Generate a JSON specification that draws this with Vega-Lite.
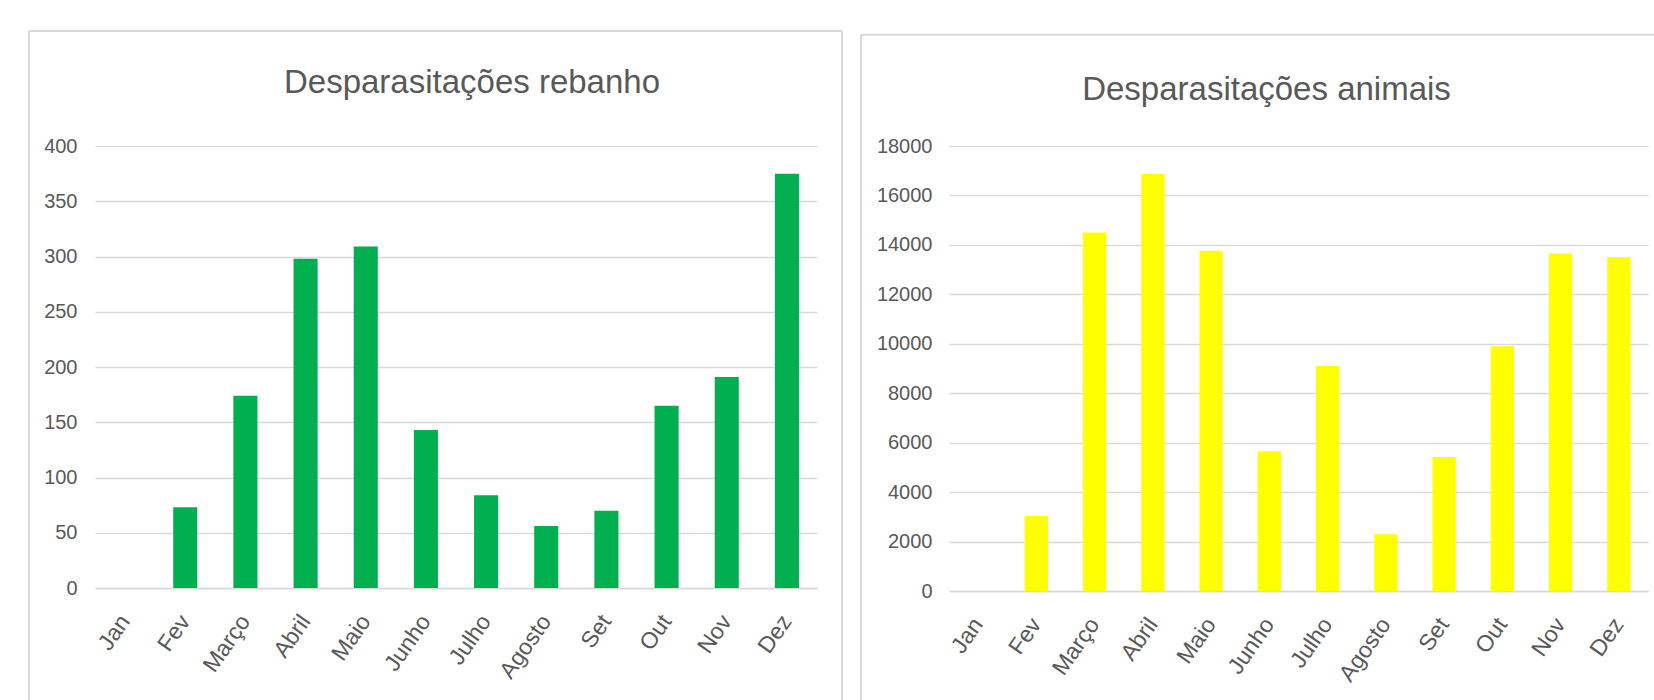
{
  "$schema": "https://vega.github.io/schema/vega-lite/v6.json",
  "background": "white",
  "padding": {"left": 28, "top": 30, "right": 0, "bottom": 0},
  "autosize": {"type": "pad"},
  "datasets": {
    "rebanho": [
      {"mes": "Jan", "valor": 0},
      {"mes": "Fev", "valor": 73},
      {"mes": "Março", "valor": 174},
      {"mes": "Abril", "valor": 298},
      {"mes": "Maio", "valor": 309},
      {"mes": "Junho", "valor": 143},
      {"mes": "Julho", "valor": 84},
      {"mes": "Agosto", "valor": 56},
      {"mes": "Set", "valor": 70},
      {"mes": "Out", "valor": 165},
      {"mes": "Nov", "valor": 191},
      {"mes": "Dez", "valor": 375}
    ],
    "animais": [
      {"mes": "Jan", "valor": 0},
      {"mes": "Fev", "valor": 3030},
      {"mes": "Março", "valor": 14500},
      {"mes": "Abril", "valor": 16880},
      {"mes": "Maio", "valor": 13760},
      {"mes": "Junho", "valor": 5650},
      {"mes": "Julho", "valor": 9100},
      {"mes": "Agosto", "valor": 2300},
      {"mes": "Set", "valor": 5420},
      {"mes": "Out", "valor": 9900},
      {"mes": "Nov", "valor": 13650},
      {"mes": "Dez", "valor": 13500}
    ]
  },
  "config": {
    "font": "Liberation Sans",
    "view": {"stroke": null},
    "axis": {
      "labelColor": "#595959",
      "labelFont": "Liberation Sans",
      "labelFontSize": 20,
      "ticks": false,
      "domain": false,
      "gridColor": "#d9d9d9",
      "gridWidth": 1.5,
      "title": null
    },
    "axisX": {"labelFontSize": 23},
    "title": {
      "color": "#595959",
      "font": "Liberation Sans",
      "fontSize": 33,
      "fontWeight": "normal",
      "frame": "group",
      "baseline": "alphabetic"
    },
    "rule": {"color": "#d9d9d9", "strokeWidth": 2},
    "concat": {"spacing": 16}
  },
  "hconcat": [
    {
      "width": 722,
      "height": 442,
      "title": {"text": "Desparasitações rebanho", "dx": 16, "offset": -70},
      "layer": [
        {
          "data": {"name": "rebanho"},
          "mark": {"type": "bar", "color": "#00b050"},
          "encoding": {
            "x": {
              "field": "mes",
              "type": "nominal",
              "sort": null,
              "scale": {"paddingInner": 0.6, "paddingOuter": 0.3},
              "axis": {
                "labelAngle": -55,
                "labelAlign": "right",
                "labelBaseline": "middle",
                "labelPadding": 29,
                "domain": true,
                "domainColor": "#d9d9d9",
                "domainWidth": 1.5,
                "grid": false
              }
            },
            "y": {
              "field": "valor",
              "type": "quantitative",
              "scale": {"domain": [0, 400]},
              "axis": {"values": [0, 50, 100, 150, 200, 250, 300, 350, 400], "labelPadding": 18}
            }
          }
        },
        {
          "data": {"values": [{}]},
          "mark": {"type": "rule"},
          "encoding": {
            "x": {"datum": -0.0914, "type": "quantitative", "scale": {"domain": [0, 1]}, "axis": null},
            "x2": {"datum": 1.0346},
            "y": {"datum": 504, "type": "quantitative"}
          }
        },
        {
          "data": {"values": [{}]},
          "mark": {"type": "rule"},
          "encoding": {
            "x": {"datum": -0.0914, "type": "quantitative", "scale": {"domain": [0, 1]}, "axis": null},
            "y": {"datum": 504, "type": "quantitative"},
            "y2": {"datum": -120}
          }
        },
        {
          "data": {"values": [{}]},
          "mark": {"type": "rule"},
          "encoding": {
            "x": {"datum": 1.0346, "type": "quantitative", "scale": {"domain": [0, 1]}, "axis": null},
            "y": {"datum": 504, "type": "quantitative"},
            "y2": {"datum": -120}
          }
        }
      ],
      "resolve": {"scale": {"x": "independent"}, "axis": {"x": "independent"}}
    },
    {
      "width": 699,
      "height": 445,
      "title": {"text": "Desparasitações animais", "dx": -32, "offset": -73},
      "layer": [
        {
          "data": {"name": "animais"},
          "mark": {"type": "bar", "color": "#ffff00"},
          "encoding": {
            "x": {
              "field": "mes",
              "type": "nominal",
              "sort": null,
              "scale": {"paddingInner": 0.6, "paddingOuter": 0.3},
              "axis": {
                "labelAngle": -55,
                "labelAlign": "right",
                "labelBaseline": "middle",
                "labelPadding": 29,
                "domain": true,
                "domainColor": "#d9d9d9",
                "domainWidth": 1.5,
                "grid": false
              }
            },
            "y": {
              "field": "valor",
              "type": "quantitative",
              "scale": {"domain": [0, 18000]},
              "axis": {"values": [0, 2000, 4000, 6000, 8000, 10000, 12000, 14000, 16000, 18000], "labelPadding": 17, "format": "d"}
            }
          }
        },
        {
          "data": {"values": [{}]},
          "mark": {"type": "rule"},
          "encoding": {
            "x": {"datum": -0.1259, "type": "quantitative", "scale": {"domain": [0, 1]}, "axis": null},
            "x2": {"datum": 1.05},
            "y": {"datum": 22500, "type": "quantitative"}
          }
        },
        {
          "data": {"values": [{}]},
          "mark": {"type": "rule"},
          "encoding": {
            "x": {"datum": -0.1259, "type": "quantitative", "scale": {"domain": [0, 1]}, "axis": null},
            "y": {"datum": 22500, "type": "quantitative"},
            "y2": {"datum": -5300}
          }
        }
      ],
      "resolve": {"scale": {"x": "independent"}, "axis": {"x": "independent"}}
    }
  ]
}
